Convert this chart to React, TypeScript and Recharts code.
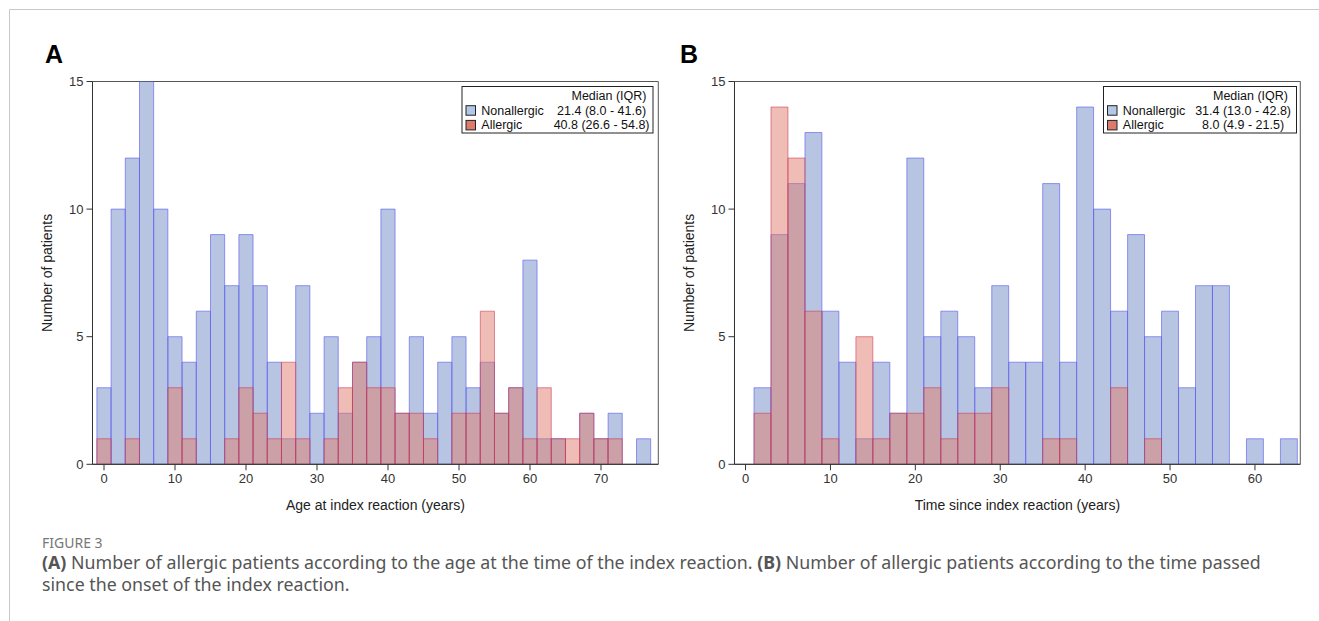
import React from 'react';
import { BarChart, Bar, XAxis, YAxis, ReferenceArea } from 'recharts';

// ---- Data (bin centers, counts) ----
const ageBins = [0, 2, 4, 6, 8, 10, 12, 14, 16, 18, 20, 22, 24, 26, 28, 30, 32, 34, 36, 38, 40, 42, 44, 46, 48, 50, 52, 54, 56, 58, 60, 62, 64, 66, 68, 70, 72, 74, 76];
const ageNonallergic = [3, 10, 12, 15, 10, 5, 4, 6, 9, 7, 9, 7, 4, 1, 7, 2, 5, 2, 4, 5, 10, 2, 5, 2, 4, 5, 3, 4, 2, 3, 8, 1, 1, 0, 2, 1, 2, 0, 1];
const ageAllergic = [1, 0, 1, 0, 0, 3, 1, 0, 0, 1, 3, 2, 1, 4, 1, 0, 1, 3, 4, 3, 3, 2, 2, 1, 0, 2, 2, 6, 2, 3, 1, 3, 1, 1, 2, 1, 1, 0, 0];

const timeBins = [2, 4, 6, 8, 10, 12, 14, 16, 18, 20, 22, 24, 26, 28, 30, 32, 34, 36, 38, 40, 42, 44, 46, 48, 50, 52, 54, 56, 58, 60, 62, 64];
const timeNonallergic = [3, 9, 11, 13, 6, 4, 1, 4, 2, 12, 5, 6, 5, 3, 7, 4, 4, 11, 4, 14, 10, 6, 9, 5, 6, 3, 7, 7, 0, 1, 0, 1];
const timeAllergic = [2, 14, 12, 6, 1, 0, 5, 1, 2, 2, 3, 1, 2, 2, 3, 0, 0, 1, 1, 0, 0, 3, 0, 1, 0, 0, 0, 0, 0, 0, 0, 0];

const yTicks = [0, 5, 10, 15];
const ageTicks = [0, 10, 20, 30, 40, 50, 60, 70];
const timeTicks = [0, 10, 20, 30, 40, 50, 60];

const seriesNames = ['Nonallergic', 'Allergic'];
const ageMedians = ['21.4 (8.0 - 41.6)', '40.8 (26.6 - 54.8)'];
const timeMedians = ['31.4 (13.0 - 42.8)', '8.0 (4.9 - 21.5)'];

// ---- Layout ----
const FONT = 'Liberation Sans, Arial, Helvetica, sans-serif';
const CAPTION_FONT = '"Noto Sans", "Open Sans", sans-serif';
const CHART_H = 530;
const PLOT_TOP = 81.5;
const PLOT_BOTTOM = 464.3;
const PLOT_W = 565.8;
const Y_AXIS_W = 92.5;
const X_AXIS_H = 50;
const BIN_WIDTH = 2;

const BLUE_FILL = '#718bc5';
const BLUE_STROKE = '#5656f0';
const RED_FILL = '#df7b6b';
const RED_STROKE = '#c8324f';

type PanelProps = {
  left: number;
  width: number;
  bins: number[];
  nonallergic: number[];
  allergic: number[];
  domain: [number, number];
  ticks: number[];
  xLabel: string;
};

function Panel({ left, width, bins, nonallergic, allergic, domain, ticks, xLabel }: PanelProps) {
  const data = bins.map((b, i) => ({ bin: b, nonallergic: nonallergic[i], allergic: allergic[i] }));
  const pxPerUnit = PLOT_W / (domain[1] - domain[0]);
  const barSize = pxPerUnit * BIN_WIDTH * 0.997;
  const rightMargin = width - Y_AXIS_W - PLOT_W;
  const bottomMargin = CHART_H - PLOT_BOTTOM - X_AXIS_H;
  const tickStyle = { fill: '#333', fontSize: 13, fontFamily: FONT };
  return (
    <div style={{ position: 'absolute', left, top: 0, width, height: CHART_H }}>
      <BarChart
        width={width}
        height={CHART_H}
        data={data}
        margin={{ top: PLOT_TOP, right: rightMargin, bottom: bottomMargin, left: 0 }}
        barSize={barSize}
        barGap={-barSize}
      >
        <XAxis
          dataKey="bin"
          type="number"
          domain={domain}
          allowDataOverflow
          ticks={ticks}
          interval={0}
          height={X_AXIS_H}
          tick={tickStyle}
          tickSize={6}
          tickMargin={3}
          axisLine={{ stroke: '#333' }}
          tickLine={{ stroke: '#333' }}
          label={{ value: xLabel, position: 'insideBottom', offset: 4.5, fill: '#222', fontSize: 14, fontFamily: FONT }}
        />
        <YAxis
          type="number"
          domain={[0, 15]}
          allowDataOverflow
          ticks={yTicks}
          interval={0}
          width={Y_AXIS_W}
          tick={tickStyle}
          tickSize={6}
          tickMargin={3}
          axisLine={{ stroke: '#333' }}
          tickLine={{ stroke: '#333' }}
          label={{ value: 'Number of patients', angle: -90, position: 'center', dx: 1, fill: '#222', fontSize: 14, fontFamily: FONT }}
        />
        <Bar
          dataKey="nonallergic"
          barSize={barSize}
          fill={BLUE_FILL}
          fillOpacity={0.5}
          stroke={BLUE_STROKE}
          strokeOpacity={0.6}
          strokeWidth={1}
          isAnimationActive={false}
        />
        <Bar
          dataKey="allergic"
          barSize={barSize}
          fill={RED_FILL}
          fillOpacity={0.5}
          stroke={RED_STROKE}
          strokeOpacity={0.55}
          strokeWidth={1}
          isAnimationActive={false}
        />
        <ReferenceArea
          x1={domain[0]}
          x2={domain[1]}
          y1={0}
          y2={15}
          fill="none"
          fillOpacity={0}
          stroke="#555"
          strokeWidth={1}
          ifOverflow="visible"
        />
      </BarChart>
    </div>
  );
}

function LegendBox({ x, w, medians }: { x: number; w: number; medians: string[] }) {
  const y = 86.5;
  const baselines = [100, 114.7, 129.4];
  const swatchFills = ['#b3c8e6', '#dd7a6c'];
  return (
    <g fontFamily={FONT} fontSize={12.5} fill="#111">
      <rect x={x} y={y} width={w} height={46.5} fill="#fff" stroke="#222" strokeWidth={1} />
      <text x={x + 184.5} y={baselines[0]} textAnchor="end">Median (IQR)</text>
      {seriesNames.map((name, i) => (
        <g key={name}>
          <rect x={x + 4} y={baselines[i + 1] - 9} width={9.5} height={9.5} fill={swatchFills[i]} stroke="#222" strokeWidth={1} />
          <text x={x + 19.3} y={baselines[i + 1]}>{name}</text>
          <text x={x + 139.6} y={baselines[i + 1]} textAnchor="middle">{medians[i]}</text>
        </g>
      ))}
    </g>
  );
}

export default function App() {
  return (
    <div style={{ position: 'absolute', left: 0, top: 0, width: 1319, height: 621, overflow: 'hidden', background: '#fff' }}>
      <Panel
        left={0}
        width={680}
        bins={ageBins}
        nonallergic={ageNonallergic}
        allergic={ageAllergic}
        domain={[-1.62, 78.07]}
        ticks={ageTicks}
        xLabel="Age at index reaction (years)"
      />
      <Panel
        left={642.4}
        width={676.6}
        bins={timeBins}
        nonallergic={timeNonallergic}
        allergic={timeAllergic}
        domain={[-1.3, 65.34]}
        ticks={timeTicks}
        xLabel="Time since index reaction (years)"
      />
      <svg width={1319} height={621} style={{ position: 'absolute', left: 0, top: 0, pointerEvents: 'none' }}>
        <line x1={9.5} y1={9.5} x2={1319} y2={9.5} stroke="#c8c8c8" strokeWidth={1} />
        <line x1={9.5} y1={9.5} x2={9.5} y2={621} stroke="#c8c8c8" strokeWidth={1} />
        <text x={45} y={62.7} fontFamily={FONT} fontSize={25} fontWeight="bold" fill="#000">A</text>
        <text x={680} y={62.7} fontFamily={FONT} fontSize={25} fontWeight="bold" fill="#000">B</text>
        <LegendBox x={462} w={191} medians={ageMedians} />
        <LegendBox x={1103.5} w={193} medians={timeMedians} />
        <text x={42} y={548} fontFamily={CAPTION_FONT} fontSize={14} fill="#777">FIGURE 3</text>
        <text x={42} y={569} fontFamily={CAPTION_FONT} fontSize={17.8} fill="#555">
          <tspan fontWeight="bold">(A)</tspan> Number of allergic patients according to the age at the time of the index reaction. <tspan fontWeight="bold">(B)</tspan> Number of allergic patients according to the time passed
        </text>
        <text x={42} y={591} fontFamily={CAPTION_FONT} fontSize={17.8} fill="#555">since the onset of the index reaction.</text>
      </svg>
    </div>
  );
}
